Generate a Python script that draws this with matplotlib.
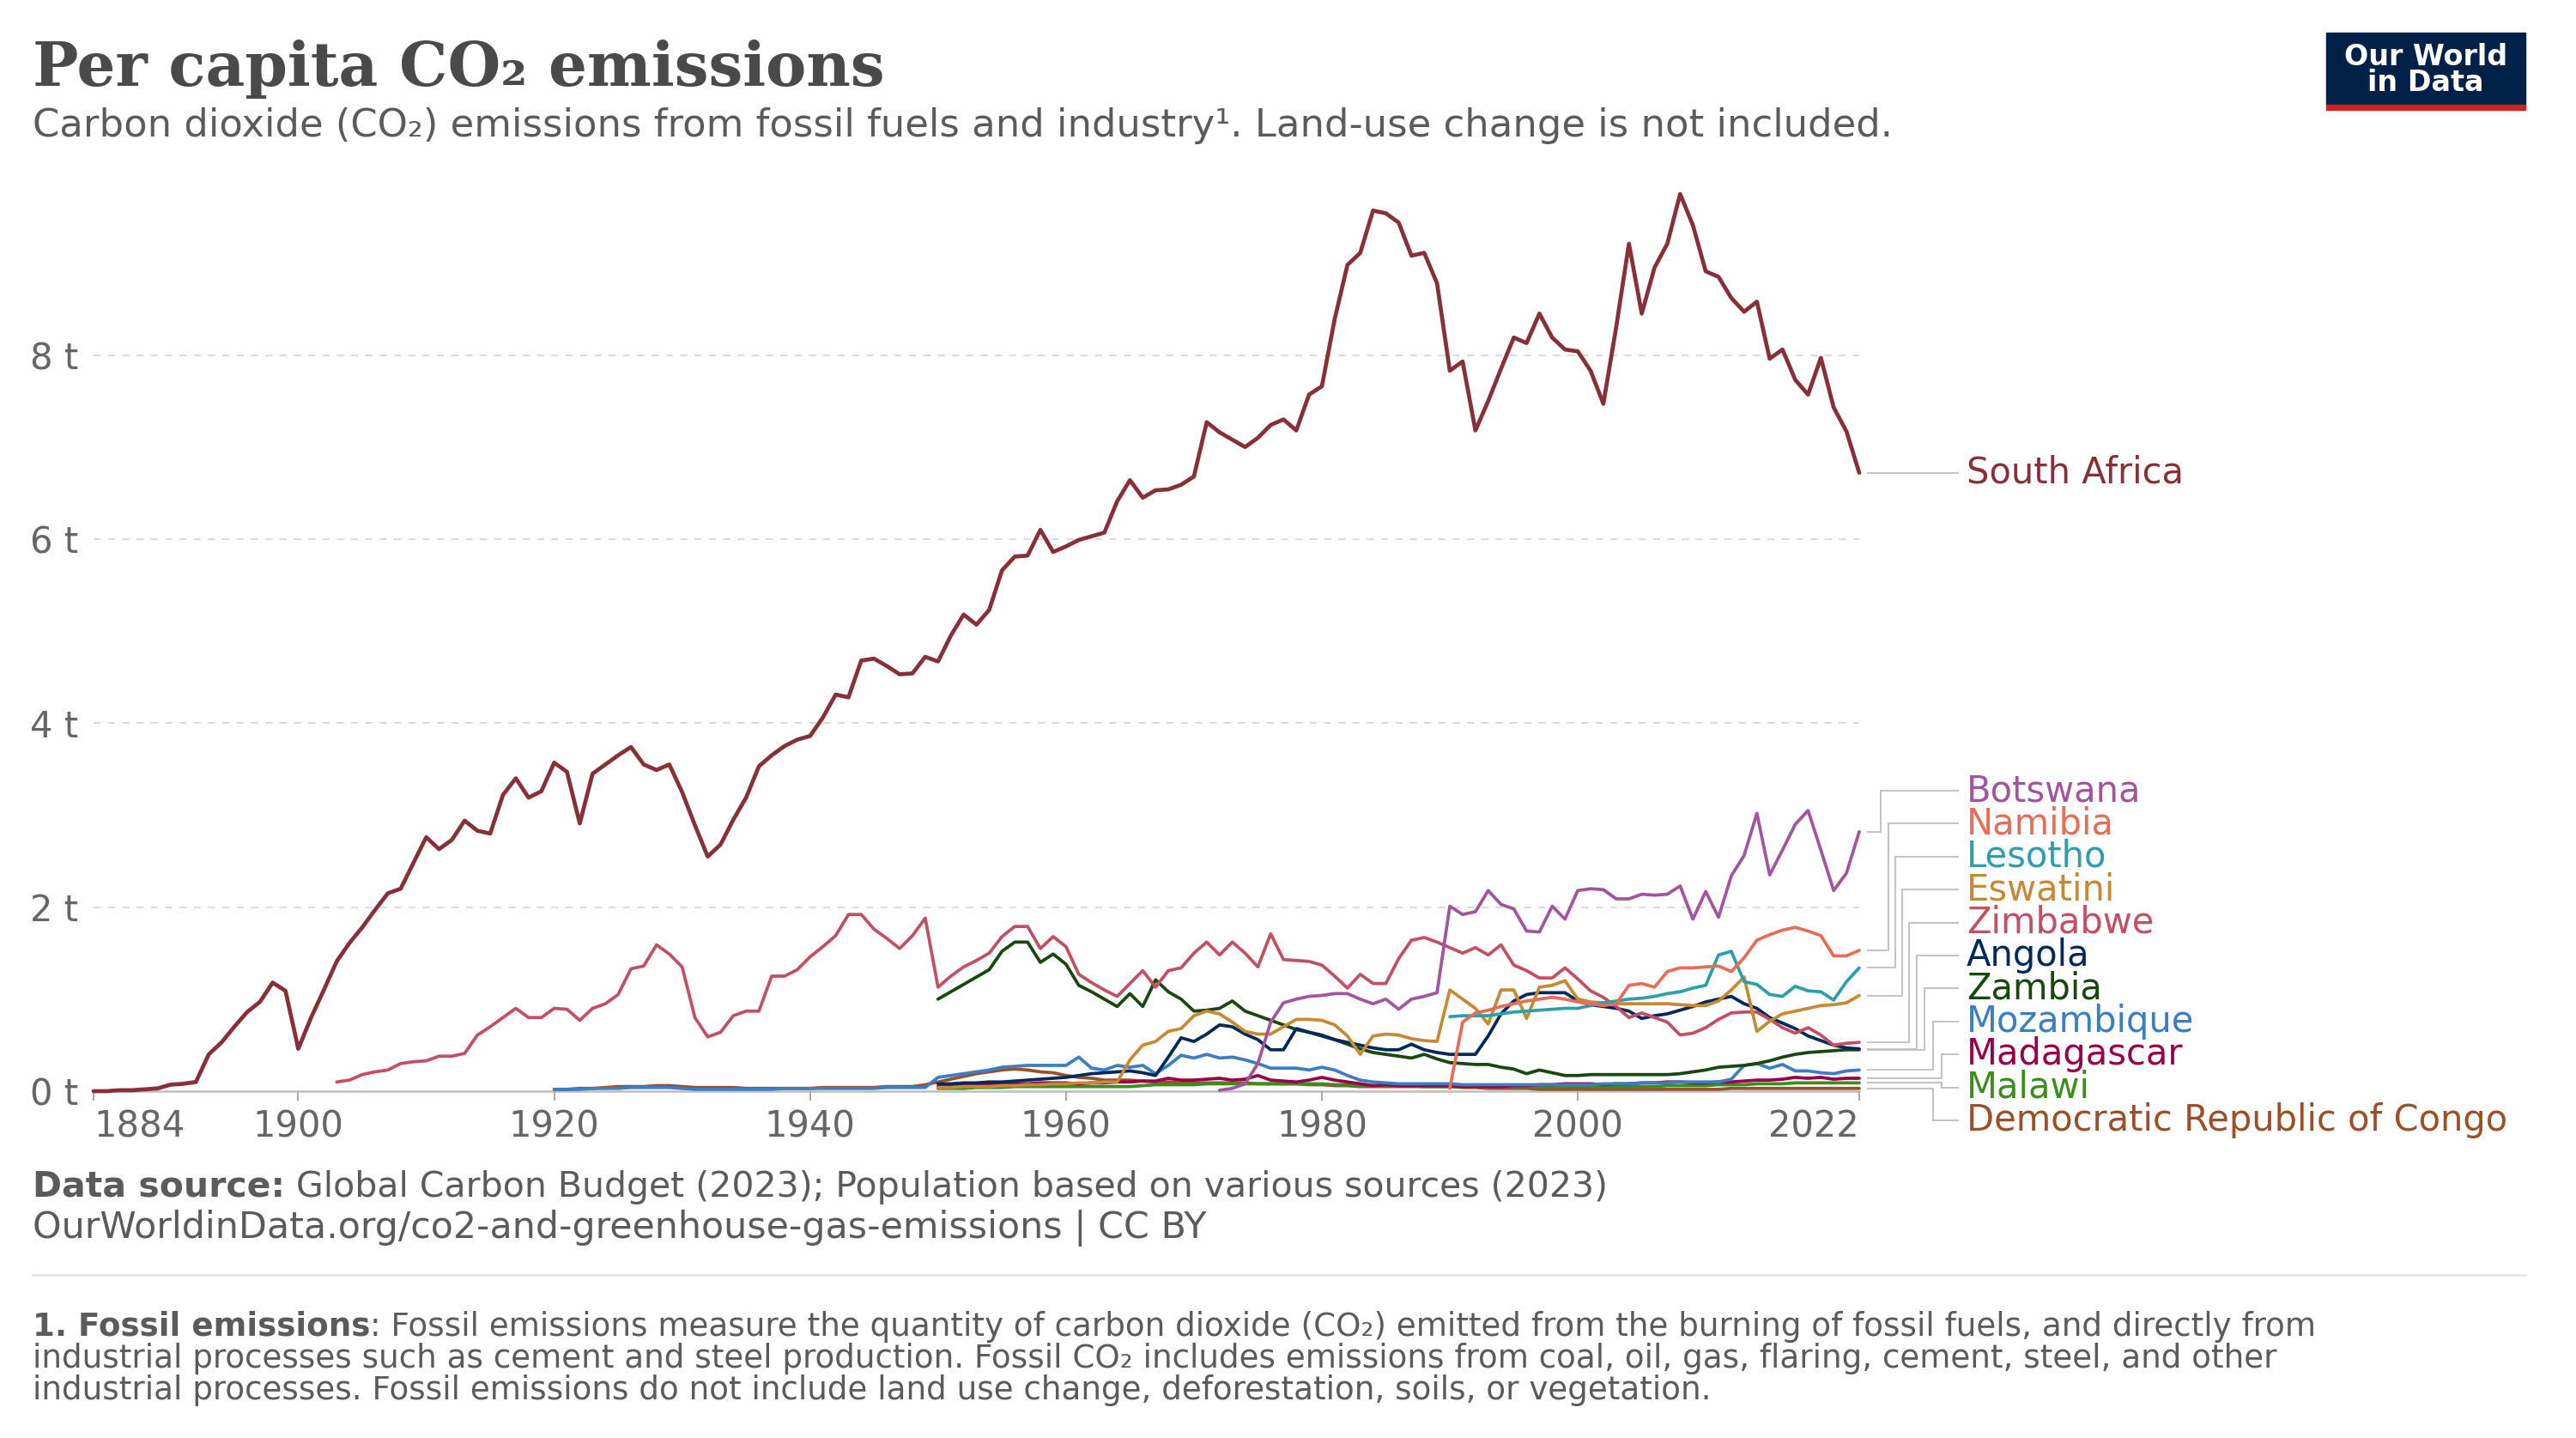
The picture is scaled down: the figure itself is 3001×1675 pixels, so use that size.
import matplotlib
matplotlib.use("Agg")
import matplotlib.pyplot as plt
from matplotlib.patches import Rectangle
from matplotlib.lines import Line2D

# ---------------- DATA (tonnes CO2 per person) ----------------
sa_years = list(range(1884, 2023))
south_africa = [
    0.00, 0.00, 0.01, 0.01, 0.02, 0.03, 0.07, 0.08, 0.10, 0.40,   # 1884-1893
    0.53, 0.70, 0.86, 0.97, 1.18, 1.09, 0.46, 0.80, 1.10, 1.41,   # 1894-1903
    1.61, 1.78, 1.97, 2.15, 2.20, 2.48, 2.76, 2.63, 2.73, 2.94,   # 1904-1913
    2.83, 2.80, 3.22, 3.40, 3.19, 3.26, 3.57, 3.47, 2.91, 3.45,   # 1914-1923
    3.55, 3.65, 3.74, 3.55, 3.49, 3.55, 3.25, 2.89, 2.55, 2.68,   # 1924-1933
    2.95, 3.19, 3.53, 3.65, 3.75, 3.82, 3.86, 4.06, 4.31, 4.28,   # 1934-1943
    4.68, 4.70, 4.62, 4.53, 4.54, 4.72, 4.67, 4.95, 5.18, 5.07,   # 1944-1953
    5.23, 5.66, 5.81, 5.82, 6.10, 5.86, 5.92, 5.99, 6.03, 6.07,   # 1954-1963
    6.41, 6.64, 6.45, 6.53, 6.54, 6.59, 6.68, 7.27, 7.16, 7.08,   # 1964-1973
    7.00, 7.10, 7.24, 7.30, 7.18, 7.57, 7.66, 8.39, 8.98, 9.11,   # 1974-1983
    9.57, 9.54, 9.44, 9.08, 9.11, 8.78, 7.83, 7.93, 7.18, 7.50,   # 1984-1993
    7.85, 8.19, 8.13, 8.45, 8.19, 8.06, 8.04, 7.83, 7.47, 8.30,   # 1994-2003
    9.21, 8.45, 8.95, 9.21, 9.75, 9.41, 8.91, 8.85, 8.62, 8.47,   # 2004-2013
    8.58, 7.96, 8.06, 7.73, 7.57, 7.97, 7.43, 7.17, 6.72,         # 2014-2022
]

zw_years = list(range(1903, 2023))
zimbabwe = [
    0.10, 0.12, 0.18, 0.21, 0.23, 0.30, 0.32,                     # 1903-1909
    0.33, 0.38, 0.38, 0.41, 0.61, 0.70, 0.80, 0.90, 0.80, 0.80,   # 1910-1919
    0.90, 0.89, 0.77, 0.90, 0.95, 1.05, 1.33, 1.36, 1.59, 1.49,   # 1920-1929
    1.35, 0.80, 0.59, 0.64, 0.82, 0.87, 0.87, 1.25, 1.25, 1.32,   # 1930-1939
    1.46, 1.57, 1.69, 1.92, 1.92, 1.76, 1.66, 1.55, 1.69, 1.88,   # 1940-1949
    1.13, 1.25, 1.35, 1.42, 1.50, 1.68, 1.79, 1.79, 1.55, 1.68,   # 1950-1959
    1.57, 1.27, 1.18, 1.10, 1.03, 1.17, 1.31, 1.13, 1.31, 1.34,   # 1960-1969
    1.50, 1.62, 1.48, 1.62, 1.50, 1.35, 1.71, 1.43, 1.42, 1.41,   # 1970-1979
    1.37, 1.25, 1.12, 1.27, 1.17, 1.17, 1.44, 1.64, 1.67, 1.62,   # 1980-1989
    1.56, 1.50, 1.56, 1.48, 1.59, 1.37, 1.31, 1.23, 1.23, 1.34,   # 1990-1999
    1.22, 1.09, 1.02, 0.92, 0.80, 0.85, 0.80, 0.75, 0.61, 0.63,   # 2000-2009
    0.69, 0.78, 0.85, 0.86, 0.86, 0.78, 0.69, 0.63, 0.69, 0.61,   # 2010-2019
    0.50, 0.52, 0.53,                                             # 2020-2022
]

bw_years = list(range(1972, 2023))
botswana = [
    0.01, 0.03, 0.08, 0.30, 0.75, 0.96, 1.00, 1.03,               # 1972-1979
    1.04, 1.06, 1.06, 1.00, 0.95, 1.00, 0.89, 1.00, 1.03, 1.07,   # 1980-1989
    2.01, 1.92, 1.95, 2.18, 2.03, 1.98, 1.74, 1.73, 2.01, 1.87,   # 1990-1999
    2.18, 2.20, 2.19, 2.09, 2.09, 2.14, 2.13, 2.14, 2.23, 1.87,   # 2000-2009
    2.17, 1.89, 2.34, 2.56, 3.02, 2.35, 2.62, 2.90, 3.05, 2.62,   # 2010-2019
    2.18, 2.37, 2.82,                                             # 2020-2022
]

na_years = list(range(1990, 2023))
namibia = [
    0.03, 0.75, 0.85, 0.88, 0.92, 0.95, 0.98, 1.00, 1.02, 1.00,   # 1990-1999
    0.97, 0.95, 0.93, 0.95, 1.15, 1.17, 1.13, 1.30, 1.34, 1.34,   # 2000-2009
    1.35, 1.36, 1.30, 1.45, 1.64, 1.70, 1.75, 1.78, 1.74, 1.69,   # 2010-2019
    1.47, 1.47, 1.53,                                             # 2020-2022
]

ls_years = list(range(1990, 2023))
lesotho = [
    0.81, 0.82, 0.82, 0.82, 0.84, 0.86, 0.87, 0.88, 0.89, 0.90,   # 1990-1999
    0.90, 0.93, 0.96, 0.98, 1.00, 1.01, 1.03, 1.06, 1.08, 1.12,   # 2000-2009
    1.15, 1.48, 1.52, 1.19, 1.16, 1.05, 1.03, 1.14, 1.09, 1.08,   # 2010-2019
    0.99, 1.19, 1.34,                                             # 2020-2022
]

sz_years = list(range(1950, 2023))
eswatini = [
    0.04, 0.04, 0.05, 0.05, 0.05, 0.06, 0.06, 0.07, 0.07, 0.08,   # 1950-1959
    0.08, 0.09, 0.09, 0.10, 0.10, 0.34, 0.50, 0.54, 0.65, 0.68,   # 1960-1969
    0.82, 0.87, 0.84, 0.75, 0.65, 0.62, 0.62, 0.70, 0.78, 0.78,   # 1970-1979
    0.77, 0.72, 0.60, 0.40, 0.60, 0.62, 0.61, 0.57, 0.55, 0.54,   # 1980-1989
    1.10, 1.00, 0.90, 0.73, 1.10, 1.10, 0.79, 1.13, 1.15, 1.20,   # 1990-1999
    1.00, 0.97, 0.96, 0.95, 0.95, 0.95, 0.95, 0.95, 0.94, 0.93,   # 2000-2009
    0.93, 0.98, 1.10, 1.24, 0.65, 0.76, 0.84, 0.87, 0.90, 0.93,   # 2010-2019
    0.94, 0.96, 1.04,                                             # 2020-2022
]

ao_years = list(range(1950, 2023))
angola = [
    0.08, 0.08, 0.09, 0.09, 0.10, 0.10, 0.11, 0.12, 0.13, 0.14,   # 1950-1959
    0.15, 0.17, 0.19, 0.20, 0.21, 0.22, 0.20, 0.17, 0.37, 0.58,   # 1960-1969
    0.54, 0.62, 0.72, 0.70, 0.62, 0.56, 0.45, 0.45, 0.68, 0.64,   # 1970-1979
    0.60, 0.56, 0.53, 0.50, 0.47, 0.45, 0.45, 0.51, 0.45, 0.42,   # 1980-1989
    0.40, 0.40, 0.40, 0.60, 0.84, 0.98, 1.05, 1.07, 1.07, 1.07,   # 1990-1999
    0.98, 0.94, 0.92, 0.90, 0.87, 0.79, 0.82, 0.84, 0.88, 0.92,   # 2000-2009
    0.97, 1.00, 1.03, 0.95, 0.90, 0.80, 0.74, 0.68, 0.60, 0.55,   # 2010-2019
    0.50, 0.47, 0.46,                                             # 2020-2022
]

zm_years = list(range(1950, 2023))
zambia = [
    1.00, 1.08, 1.16, 1.24, 1.32, 1.52, 1.62, 1.62, 1.40, 1.49,   # 1950-1959
    1.38, 1.15, 1.08, 1.00, 0.92, 1.06, 0.92, 1.21, 1.08, 1.00,   # 1960-1969
    0.87, 0.88, 0.90, 0.98, 0.87, 0.82, 0.77, 0.72, 0.67, 0.64,   # 1970-1979
    0.61, 0.56, 0.51, 0.46, 0.42, 0.40, 0.38, 0.36, 0.40, 0.35,   # 1980-1989
    0.31, 0.30, 0.29, 0.29, 0.26, 0.24, 0.19, 0.23, 0.20, 0.17,   # 1990-1999
    0.17, 0.18, 0.18, 0.18, 0.18, 0.18, 0.18, 0.18, 0.19, 0.21,   # 2000-2009
    0.23, 0.26, 0.27, 0.28, 0.30, 0.33, 0.37, 0.40, 0.42, 0.43,   # 2010-2019
    0.44, 0.45, 0.45,                                             # 2020-2022
]

mz_years = list(range(1920, 2023))
mozambique = [
    0.02, 0.02, 0.02, 0.03, 0.03, 0.03, 0.04, 0.04, 0.04, 0.04,   # 1920-1929
    0.03, 0.02, 0.02, 0.02, 0.02, 0.02, 0.02, 0.02, 0.03, 0.03,   # 1930-1939
    0.03, 0.03, 0.03, 0.03, 0.03, 0.03, 0.04, 0.04, 0.04, 0.04,   # 1940-1949
    0.15, 0.17, 0.19, 0.21, 0.23, 0.26, 0.27, 0.28, 0.28, 0.28,   # 1950-1959
    0.28, 0.37, 0.25, 0.23, 0.28, 0.26, 0.28, 0.19, 0.28, 0.39,   # 1960-1969
    0.36, 0.40, 0.36, 0.37, 0.34, 0.30, 0.25, 0.25, 0.25, 0.23,   # 1970-1979
    0.26, 0.23, 0.17, 0.12, 0.10, 0.09, 0.08, 0.08, 0.08, 0.08,   # 1980-1989
    0.08, 0.07, 0.07, 0.07, 0.07, 0.07, 0.07, 0.07, 0.07, 0.07,   # 1990-1999
    0.07, 0.07, 0.08, 0.08, 0.08, 0.09, 0.09, 0.09, 0.10, 0.10,   # 2000-2009
    0.10, 0.10, 0.13, 0.28, 0.30, 0.25, 0.29, 0.22, 0.22, 0.20,   # 2010-2019
    0.19, 0.22, 0.23,                                             # 2020-2022
]

mg_years = list(range(1950, 2023))
madagascar = [
    0.05, 0.06, 0.06, 0.07, 0.07, 0.08, 0.08, 0.08, 0.09, 0.09,   # 1950-1959
    0.09, 0.08, 0.09, 0.09, 0.10, 0.10, 0.11, 0.11, 0.14, 0.12,   # 1960-1969
    0.12, 0.13, 0.14, 0.12, 0.13, 0.17, 0.12, 0.11, 0.10, 0.12,   # 1970-1979
    0.15, 0.12, 0.10, 0.08, 0.06, 0.07, 0.06, 0.06, 0.06, 0.06,   # 1980-1989
    0.06, 0.05, 0.05, 0.05, 0.05, 0.06, 0.06, 0.07, 0.07, 0.08,   # 1990-1999
    0.08, 0.08, 0.07, 0.08, 0.08, 0.09, 0.09, 0.10, 0.10, 0.09,   # 2000-2009
    0.09, 0.10, 0.10, 0.11, 0.12, 0.12, 0.13, 0.15, 0.14, 0.15,   # 2010-2019
    0.13, 0.14, 0.14,                                             # 2020-2022
]

mw_years = list(range(1950, 2023))
malawi = [
    0.03, 0.03, 0.03, 0.04, 0.04, 0.04, 0.05, 0.05, 0.05, 0.05,   # 1950-1959
    0.05, 0.05, 0.05, 0.05, 0.05, 0.05, 0.06, 0.07, 0.07, 0.07,   # 1960-1969
    0.07, 0.08, 0.08, 0.08, 0.08, 0.08, 0.08, 0.08, 0.08, 0.08,   # 1970-1979
    0.08, 0.07, 0.07, 0.06, 0.06, 0.06, 0.06, 0.06, 0.05, 0.05,   # 1980-1989
    0.05, 0.05, 0.06, 0.06, 0.06, 0.05, 0.05, 0.05, 0.05, 0.05,   # 1990-1999
    0.05, 0.05, 0.05, 0.05, 0.05, 0.05, 0.05, 0.06, 0.06, 0.06,   # 2000-2009
    0.06, 0.07, 0.07, 0.07, 0.08, 0.08, 0.08, 0.09, 0.09, 0.09,   # 2010-2019
    0.09, 0.09, 0.09,                                             # 2020-2022
]

cd_years = list(range(1920, 2023))
drc = [
    0.02, 0.02, 0.03, 0.03, 0.04, 0.05, 0.05, 0.05, 0.06, 0.06,   # 1920-1929
    0.05, 0.04, 0.04, 0.04, 0.04, 0.03, 0.03, 0.03, 0.03, 0.03,   # 1930-1939
    0.03, 0.04, 0.04, 0.04, 0.04, 0.04, 0.05, 0.05, 0.05, 0.07,   # 1940-1949
    0.10, 0.13, 0.16, 0.19, 0.21, 0.23, 0.24, 0.23, 0.21, 0.20,   # 1950-1959
    0.17, 0.15, 0.14, 0.12, 0.12, 0.12, 0.11, 0.10, 0.10, 0.09,   # 1960-1969
    0.09, 0.09, 0.09, 0.09, 0.09, 0.08, 0.08, 0.08, 0.08, 0.07,   # 1970-1979
    0.07, 0.06, 0.06, 0.05, 0.05, 0.05, 0.05, 0.05, 0.05, 0.05,   # 1980-1989
    0.05, 0.04, 0.04, 0.03, 0.03, 0.03, 0.03, 0.02, 0.02, 0.02,   # 1990-1999
    0.02, 0.02, 0.02, 0.02, 0.02, 0.02, 0.02, 0.02, 0.02, 0.02,   # 2000-2009
    0.02, 0.02, 0.03, 0.03, 0.03, 0.03, 0.03, 0.03, 0.03, 0.03,   # 2010-2019
    0.03, 0.03, 0.03,                                             # 2020-2022
]

x_tick_years = [1884, 1900, 1920, 1940, 1960, 1980, 2000, 2022]
y_tick_values = [0, 2, 4, 6, 8]
y_tick_labels = ["0 t", "2 t", "4 t", "6 t", "8 t"]

# name, years, values, colour  (label order, top to bottom)
series = [
    ("South Africa", sa_years, south_africa, "#883039"),
    ("Botswana", bw_years, botswana, "#A2559C"),
    ("Namibia", na_years, namibia, "#E56E5A"),
    ("Lesotho", ls_years, lesotho, "#2E9FAA"),
    ("Eswatini", sz_years, eswatini, "#C68A35"),
    ("Zimbabwe", zw_years, zimbabwe, "#C15065"),
    ("Angola", ao_years, angola, "#00295B"),
    ("Zambia", zm_years, zambia, "#18470F"),
    ("Mozambique", mz_years, mozambique, "#3C7DC4"),
    ("Madagascar", mg_years, madagascar, "#970046"),
    ("Malawi", mw_years, malawi, "#3B8E1D"),
    ("Democratic Republic of Congo", cd_years, drc, "#9A5129"),
]

# ---------------- LAYOUT ----------------
W, H = 3001, 1675
fig = plt.figure(figsize=(W / 100, H / 100), dpi=100)
fig.patch.set_facecolor("white")

def fx(x):
    return x / W

def fy(y):
    return 1 - y / H

AX_L, AX_R, AX_T, AX_B = 109, 2166, 220.6, 1271
YMAX = 9.8
ax = fig.add_axes([fx(AX_L), fy(AX_B), (AX_R - AX_L) / W, (AX_B - AX_T) / H])
ax.set_xlim(1884, 2022)
ax.set_ylim(0, YMAX)
for s in ["top", "right", "left"]:
    ax.spines[s].set_visible(False)
ax.spines["bottom"].set_color("#bdbdbd")
ax.spines["bottom"].set_linewidth(1.8)
ax.spines["bottom"].set_zorder(1)

for v in y_tick_values[1:]:
    ax.axhline(v, color="#dcdcdc", lw=1.5, ls=(0, (4, 4)), zorder=0)

SANS = ["DejaVu Sans"]
TICK = 30
LABEL = 30
ax.set_xticks(x_tick_years)
ax.set_xticklabels([str(y) for y in x_tick_years], family=SANS, fontsize=TICK, color="#666666")
ax.tick_params(axis="x", length=8, width=1.4, color="#a8a8a8", pad=7)
xl = ax.get_xticklabels()
xl[0].set_ha("left")
xl[-1].set_ha("right")
ax.set_yticks(y_tick_values)
ax.set_yticklabels(y_tick_labels, family=SANS, fontsize=TICK, color="#666666")
ax.tick_params(axis="y", length=0, pad=13)

# lines (drawn small ones first, South Africa on top)
for name, yrs, vals, col in reversed(series):
    lw = 3.4 if name == "South Africa" else 2.7
    ax.plot(yrs, vals, color=col, lw=lw, solid_joinstyle="round",
            solid_capstyle="round", clip_on=False, zorder=3)

# ---------------- line labels with connectors ----------------
PX_PER_YEAR = (AX_R - AX_L) / (2022 - 1884)
PX_PER_T = (AX_B - AX_T) / YMAX

def xdat(px):
    return 2022 + (px - AX_R) / PX_PER_YEAR

def ydat(py):
    return (AX_B - py) / PX_PER_T

CONN = "#c4c4c4"
LABEL_X = 2291
conn_start = xdat(2176)
conn_end = xdat(2281)

# South Africa: direct
sa_last = south_africa[-1]
ax.plot([conn_start, conn_end], [sa_last, sa_last], color=CONN, lw=1.5, clip_on=False)
ax.text(xdat(LABEL_X), sa_last, "South Africa", color="#883039", family=SANS,
        fontsize=LABEL, va="center", ha="left", clip_on=False)

label_y0, label_dy = 921, 38.4
elbows = [2191, 2200, 2208, 2216, 2224, 2233, 2242, 2252, 2262, 2262, 2252]
for i, (name, yrs, vals, col) in enumerate(series[1:]):
    ly = ydat(label_y0 + i * label_dy)
    last = vals[-1]
    ex = xdat(elbows[i])
    ax.plot([conn_start, ex, ex, conn_end], [last, last, ly, ly], color=CONN,
            lw=1.5, clip_on=False, solid_joinstyle="miter")
    ax.text(xdat(LABEL_X), ly, name, color=col, family=SANS, fontsize=LABEL,
            va="center", ha="left", clip_on=False)

# ---------------- header ----------------
fig.text(fx(38), fy(100), "Per capita CO₂ emissions", family=["DejaVu Serif"],
         fontsize=51, weight="bold", color="#4a4a4a", va="baseline", ha="left")
fig.text(fx(38), fy(159),
         "Carbon dioxide (CO₂) emissions from fossil fuels and industry¹. Land-use change is not included.",
         family=SANS, fontsize=32.3, color="#5b5b5b", va="baseline", ha="left")

# logo
fig.add_artist(Rectangle((fx(2710), fy(122)), (2942 - 2710) / W, (122 - 38) / H,
                         transform=fig.transFigure, color="#002147", zorder=5))
fig.add_artist(Rectangle((fx(2710), fy(128)), (2942 - 2710) / W, 6 / H,
                         transform=fig.transFigure, color="#ce261e", zorder=5))
fig.text(fx(2826), fy(66), "Our World", family=SANS, fontsize=24, weight="bold",
         color="white", ha="center", va="center", zorder=6)
fig.text(fx(2826), fy(97), "in Data", family=SANS, fontsize=24, weight="bold",
         color="white", ha="center", va="center", zorder=6)

# ---------------- footer ----------------
renderer = fig.canvas.get_renderer()

def rich_line(x, y, parts, size, color):
    cur = x
    for txt, wt in parts:
        t = fig.text(fx(cur), fy(y), txt, family=SANS, fontsize=size, weight=wt,
                     color=color, va="baseline", ha="left")
        bb = t.get_window_extent(renderer=renderer)
        cur += bb.width

rich_line(38, 1394, [("Data source:", "bold"),
                     (" Global Carbon Budget (2023); Population based on various sources (2023)", "normal")],
          29.5, "#5b5b5b")
fig.text(fx(38), fy(1442), "OurWorldinData.org/co2-and-greenhouse-gas-emissions | CC BY",
         family=SANS, fontsize=30.8, color="#5b5b5b", va="baseline", ha="left")

fig.add_artist(Line2D([fx(38), fx(2942)], [fy(1485), fy(1485)], color="#e8e8e8",
                      lw=2.2, transform=fig.transFigure))

NOTE = 26.8
rich_line(38, 1556, [("1. Fossil emissions", "bold"),
                     (": Fossil emissions measure the quantity of carbon dioxide (CO₂) emitted from the burning of fossil fuels, and directly from", "normal")],
          NOTE, "#5b5b5b")
fig.text(fx(38), fy(1593),
         "industrial processes such as cement and steel production. Fossil CO₂ includes emissions from coal, oil, gas, flaring, cement, steel, and other",
         family=SANS, fontsize=NOTE, color="#5b5b5b", va="baseline", ha="left")
fig.text(fx(38), fy(1630),
         "industrial processes. Fossil emissions do not include land use change, deforestation, soils, or vegetation.",
         family=SANS, fontsize=NOTE, color="#5b5b5b", va="baseline", ha="left")

fig.savefig("out.png", dpi=100, facecolor="white")
